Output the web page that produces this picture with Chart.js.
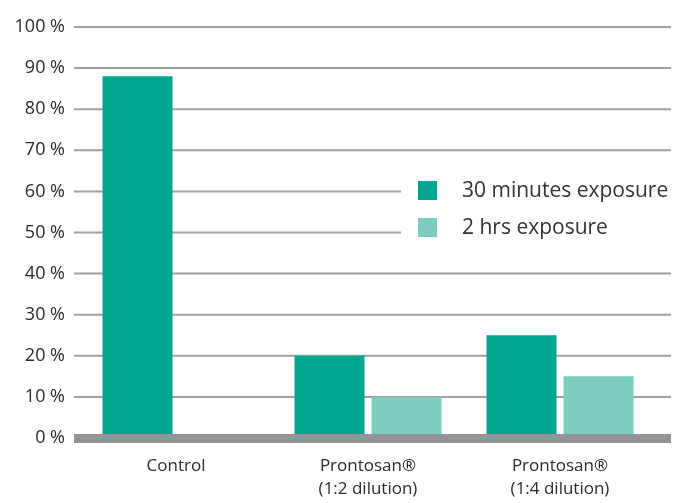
<!DOCTYPE html>
<html>
<head>
<meta charset="utf-8">
<script src="https://cdn.jsdelivr.net/npm/chart.js@4/dist/chart.umd.min.js"></script>
<style>
  html, body { margin: 0; padding: 0; background: #fff; }
  #wrap { width: 686px; height: 503px; }
</style>
</head>
<body>
<div id="wrap"><canvas id="chart"></canvas></div>
<script>
// chart data
const categories = [["Control"], ["Prontosan®", "(1:2 dilution)"], ["Prontosan®", "(1:4 dilution)"]];
const series30min = [88, 20, 25];
const series2hrs = [null, 10, 15];
const seriesNames = ["30 minutes exposure", "2 hrs exposure"];
const yTicks = [0, 10, 20, 30, 40, 50, 60, 70, 80, 90, 100];

const DARK = "#00a78e";
const LIGHT = "#7ecbbf";
const FONT = "'Open Sans', 'Noto Sans', sans-serif";

// grid lines, baseline band and legend are drawn by hand so they can run past the bars
const decor = {
  id: 'decor',
  beforeDatasetsDraw(c) {
    const ctx = c.ctx, y = c.scales.y;
    ctx.save();
    ctx.strokeStyle = "#a0a0a0";
    ctx.lineWidth = 2;
    yTicks.forEach(v => {
      if (v === 0) return;
      const py = y.getPixelForValue(v);
      ctx.beginPath();
      ctx.moveTo(74, py);
      ctx.lineTo(671, py);
      ctx.stroke();
    });
    ctx.restore();
  },
  afterDatasetsDraw(c) {
    const ctx = c.ctx, y = c.scales.y;
    const p0 = y.getPixelForValue(0);
    ctx.save();
    ctx.fillStyle = "#939398";
    ctx.fillRect(74, p0 - 4, 597, 9);

    // legend
    ctx.fillStyle = "#fff";
    ctx.fillRect(401, 170, 270, 76);
    const colors = [DARK, LIGHT];
    ctx.font = "21px " + FONT;
    ctx.textBaseline = "middle";
    seriesNames.forEach((name, i) => {
      const top = 181 + i * 37;
      ctx.fillStyle = colors[i];
      ctx.fillRect(418, top, 19, 19);
      ctx.fillStyle = "#333";
      ctx.fillText(name, 462, top + 10);
    });
    ctx.restore();
  }
};

new Chart(document.getElementById('chart'), {
  type: 'bar',
  data: {
    labels: categories,
    datasets: [
      { label: seriesNames[0], data: series30min, backgroundColor: DARK },
      { label: seriesNames[1], data: series2hrs, backgroundColor: LIGHT }
    ]
  },
  options: {
    responsive: true,
    maintainAspectRatio: false,
    animation: false,
    layout: { padding: { top: 27, right: 30, left: 0, bottom: 0 } },
    datasets: { bar: { categoryPercentage: 0.802, barPercentage: 0.909 } },
    plugins: { legend: { display: false }, tooltip: { enabled: false } },
    scales: {
      x: {
        grid: { display: false, drawTicks: false },
        border: { display: false },
        ticks: { color: "#2b2b2b", font: { family: FONT, size: 17, lineHeight: 1.35 }, padding: 17, maxRotation: 0 },
        afterFit: s => { s.height = 65; }
      },
      y: {
        min: 0, max: 100,
        grid: { display: false, drawTicks: false },
        border: { display: false },
        afterBuildTicks: s => { s.ticks = yTicks.map(v => ({ value: v })); },
        ticks: { color: "#2b2b2b", font: { family: FONT, size: 18 }, padding: 15, callback: v => v + " %" },
        afterFit: s => { s.width = 80; }
      }
    }
  },
  plugins: [decor]
});
</script>
</body>
</html>
